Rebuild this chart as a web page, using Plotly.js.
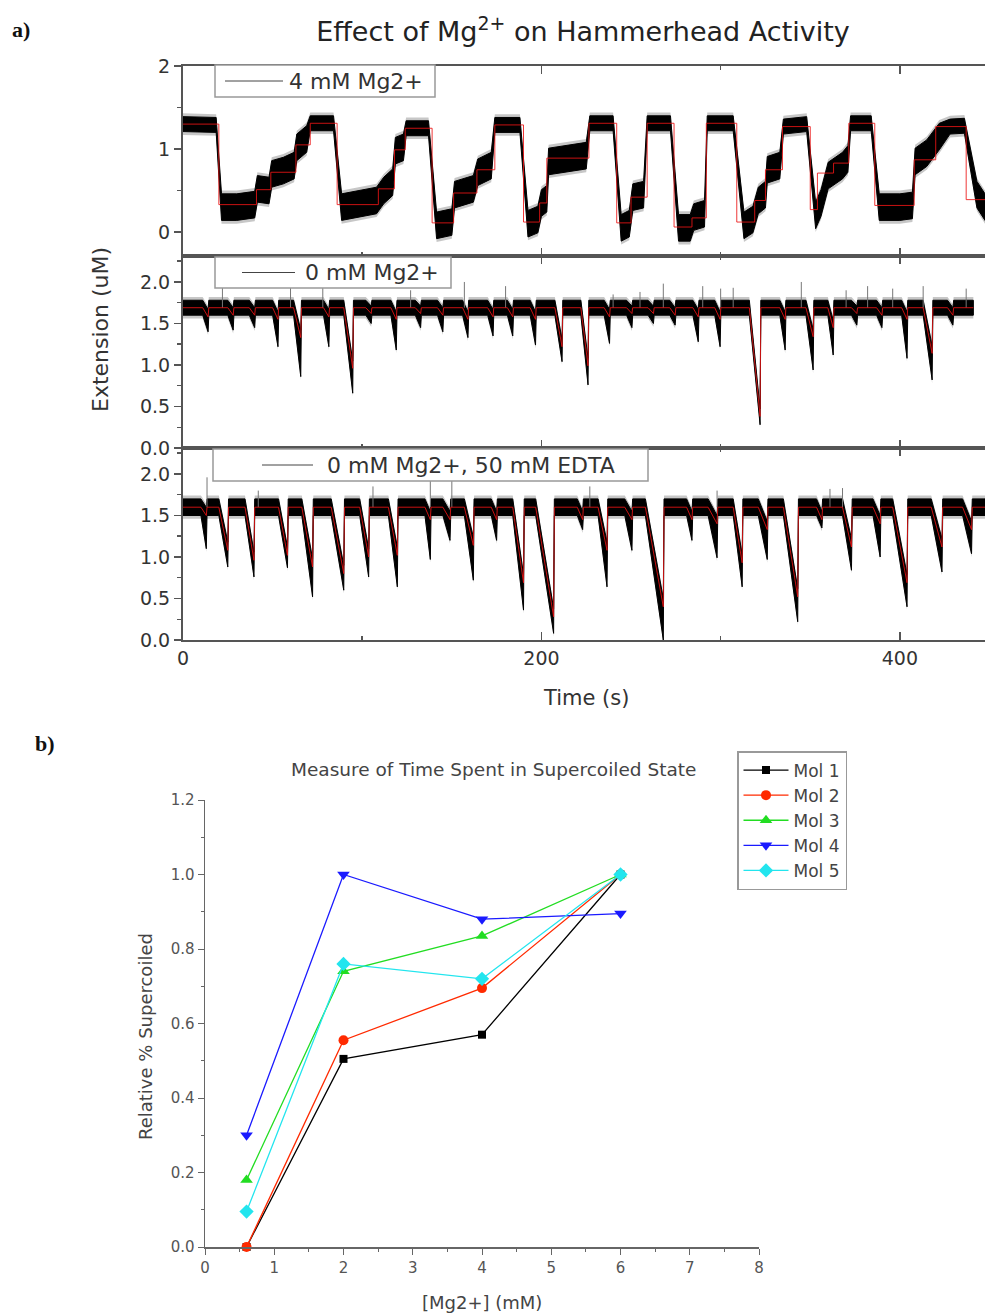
<!DOCTYPE html>
<html><head><meta charset="utf-8">
<script src="https://cdn.plot.ly/plotly-3.0.1.min.js"></script>
<style>html,body{margin:0;padding:0;background:#fff;} #chart{width:985px;height:1314px;}</style>
</head><body><div id="chart"></div>
<script>
// ===== Panel a, trace 1: 4 mM Mg2+ =====
// red fitted steps (start time of each level, level)
const fitT4 = [0, 20, 41, 49, 63, 71, 86, 109, 118, 124, 139, 151, 164, 174, 190, 199, 203, 226.5, 242, 250, 259, 274, 284, 292, 309, 319, 325, 334.5, 350, 354, 363, 371.5, 386, 408, 420, 437, 447.5];
const fitY4 = [1.30, 0.33, 0.51, 0.72, 1.05, 1.31, 0.33, 0.52, 0.99, 1.25, 0.11, 0.47, 0.75, 1.29, 0.12, 0.35, 0.89, 1.31, 0.11, 0.42, 1.31, 0.06, 0.17, 1.31, 0.12, 0.38, 0.75, 1.27, 0.27, 0.71, 0.83, 1.31, 0.32, 0.87, 1.27, 0.39, 0.39];
// raw trace centre line
const rawT4 = [0, 18.5, 21.5, 30, 40, 41.5, 48, 49.5, 56, 62, 63.5, 69, 71, 84, 88.5, 100, 108, 112, 117, 118.5, 123, 124.5, 137, 141.5, 150, 151.5, 162, 164.5, 172, 174, 188, 192.5, 198, 200, 203, 204, 225, 227, 240, 244.5, 249, 251, 257, 259, 272, 276.5, 283, 285, 291, 292.5, 307, 313, 318, 321, 325, 326, 333, 335, 348, 353, 356, 360, 368, 371, 372.5, 384, 388.5, 400, 407, 408.5, 415, 422, 428, 436, 443, 447.5];
const rawY4 = [1.30, 1.29, 0.30, 0.30, 0.33, 0.52, 0.50, 0.70, 0.74, 0.80, 1.02, 1.12, 1.31, 1.31, 0.30, 0.35, 0.38, 0.50, 0.60, 0.98, 1.02, 1.25, 1.25, 0.08, 0.12, 0.45, 0.52, 0.72, 0.80, 1.29, 1.29, 0.10, 0.15, 0.35, 0.40, 0.85, 0.92, 1.31, 1.31, 0.05, 0.10, 0.42, 0.45, 1.31, 1.31, 0.05, 0.05, 0.18, 0.22, 1.31, 1.31, 0.08, 0.15, 0.38, 0.45, 0.75, 0.80, 1.27, 1.30, 0.20, 0.35, 0.68, 0.80, 0.88, 1.31, 1.31, 0.30, 0.30, 0.32, 0.85, 0.95, 1.15, 1.27, 1.28, 0.45, 0.30];
const noiseHigh4 = 0.09, noiseLow4 = 0.16;

// ===== Panel a, trace 2: 0 mM Mg2+ =====
const base0 = 1.69, noise0 = 0.09, end0 = 441;
const dipT0   = [14, 28, 40, 53, 65.7, 81.4, 94.7, 105, 119, 132.6, 145, 159, 173, 184, 196.7, 211.5, 226, 238, 250.5, 262.5, 274.6, 287.5, 299.7, 322, 336, 351.6, 362.8, 376, 390, 404, 418, 429.6];
const dipFit0 = [1.58, 1.60, 1.60, 1.55, 1.33, 1.58, 0.96, 1.62, 1.55, 1.62, 1.60, 1.55, 1.58, 1.58, 1.55, 1.22, 0.99, 1.58, 1.62, 1.62, 1.60, 1.58, 1.55, 0.38, 1.55, 1.34, 1.45, 1.62, 1.60, 1.55, 1.14, 1.60];
const dipRaw0 = [1.40, 1.42, 1.45, 1.22, 0.86, 1.22, 0.66, 1.50, 1.18, 1.45, 1.40, 1.33, 1.35, 1.35, 1.24, 1.04, 0.76, 1.26, 1.45, 1.50, 1.48, 1.28, 1.22, 0.28, 1.18, 0.94, 1.12, 1.48, 1.45, 1.08, 0.82, 1.48];
const dipW0   = [3, 3, 3, 3, 4, 3, 5, 3, 3, 3, 3, 3, 3, 3, 3, 4, 4, 3, 3, 3, 3, 3, 3, 6, 3, 4, 3, 3, 3, 3, 5, 3];
const spikeT0 = [22, 60, 78, 127, 157, 180, 240, 255, 268, 290, 300, 307, 345, 370, 382, 396, 413, 437];
const spikeY0 = [1.95, 1.95, 1.98, 1.90, 2.00, 1.95, 1.85, 1.88, 1.98, 1.95, 1.92, 1.93, 2.00, 1.90, 1.95, 1.92, 1.95, 1.92];

// ===== Panel a, trace 3: 0 mM Mg2+, 50 mM EDTA =====
const base50 = 1.60, noise50 = 0.10, end50 = 447.5;
const dipT50   = [13, 25, 39.6, 58.3, 72.3, 89.7, 103.6, 119.6, 138, 149, 162, 175, 190, 206.8, 223, 236.6, 250.5, 268, 284, 298, 312, 326, 343, 356.5, 373, 389, 404, 423.5, 440];
const dipFit50 = [1.50, 1.08, 0.96, 1.02, 0.88, 0.80, 1.00, 1.02, 1.45, 1.45, 1.14, 1.45, 0.69, 0.28, 1.45, 1.08, 1.45, 0.40, 1.45, 1.40, 0.93, 1.33, 0.52, 1.45, 1.12, 1.40, 0.69, 1.12, 1.33];
const dipRaw50 = [1.10, 0.88, 0.76, 0.87, 0.52, 0.60, 0.76, 0.64, 0.97, 1.20, 0.72, 1.20, 0.36, 0.08, 1.33, 0.64, 1.08, 0.00, 1.20, 0.99, 0.64, 0.97, 0.22, 1.35, 0.84, 1.00, 0.40, 0.82, 1.04];
const dipW50   = [3, 5, 5, 5, 6, 7, 5, 5, 3, 4, 5, 3, 6, 10, 3, 5, 4, 10, 3, 5, 5, 5, 8, 3, 5, 4, 8, 6, 5];
const spikeT50 = [13.4, 42, 106, 138, 150, 227, 298, 361, 368];
const spikeY50 = [1.96, 1.80, 1.85, 1.97, 1.97, 1.85, 1.80, 1.82, 1.83];

const traceNames = ['4 mM Mg2+', '0 mM Mg2+', '0 mM Mg2+, 50 mM EDTA'];

// ===== Panel b =====
const mgConc = [0.6, 2, 4, 6];
const mol1 = [0.0, 0.505, 0.57, 1.0];
const mol2 = [0.0, 0.555, 0.695, 1.0];
const mol3 = [0.18, 0.74, 0.835, 1.0];
const mol4 = [0.30, 1.0, 0.88, 0.895];
const mol5 = [0.095, 0.76, 0.72, 1.0];
const molNames = ['Mol 1', 'Mol 2', 'Mol 3', 'Mol 4', 'Mol 5'];

// ---------- builders ----------
const FONT = 'DejaVu Sans';
function polygon(X, up, lo) {
  return { x: X.concat(X.slice().reverse()), y: up.concat(lo.slice().reverse()) };
}
function dipSeries(base, hw, T, F, R, W, end) {
  const X = [0], fit = [base], up = [base + hw], lo = [base - hw];
  for (let i = 0; i < T.length; i++) {
    X.push(T[i] - W[i], T[i], T[i] + 0.4);
    fit.push(base, F[i], base);
    up.push(base + hw, F[i] + hw, base + hw);
    lo.push(base - hw, R[i], base - hw);
  }
  X.push(end); fit.push(base); up.push(base + hw); lo.push(base - hw);
  return { X, fit, up, lo };
}
function spikes(T, Y, base) {
  const x = [], y = [];
  T.forEach((t, i) => { x.push(t, t, null); y.push(base, Y[i], null); });
  return { x, y };
}
const traces = [];
function addPanel(xa, ya, X, up, lo, fitX, fitY, fitShape, sp, name) {
  const halo = polygon(X, up.map(v => v + 0.04), lo.map(v => v - 0.04));
  traces.push({ x: halo.x, y: halo.y, xaxis: xa, yaxis: ya, mode: 'lines', fill: 'toself',
    fillcolor: 'rgba(0,0,0,0.22)', line: { width: 0 }, showlegend: false, hoverinfo: 'skip' });
  const band = polygon(X, up, lo);
  traces.push({ x: band.x, y: band.y, xaxis: xa, yaxis: ya, mode: 'lines', fill: 'toself', name: name,
    fillcolor: '#000', line: { color: '#000', width: 1 }, showlegend: false, hoverinfo: 'skip' });
  if (sp) traces.push({ x: sp.x, y: sp.y, xaxis: xa, yaxis: ya, mode: 'lines',
    line: { color: '#777', width: 1 }, showlegend: false, hoverinfo: 'skip' });
  traces.push({ x: fitX, y: fitY, xaxis: xa, yaxis: ya, mode: 'lines', name: name + ' fit',
    line: { color: 'rgba(235,20,20,0.85)', width: 1, shape: fitShape }, showlegend: false });
}

// panel a / 4 mM
const up4 = rawY4.map(v => v + (v > 1.15 ? noiseHigh4 : noiseLow4));
const lo4 = rawY4.map(v => v - (v > 1.15 ? noiseHigh4 : noiseLow4));
addPanel('x', 'y', rawT4, up4, lo4, fitT4, fitY4, 'hv', null, traceNames[0]);
// 0 mM
const s0 = dipSeries(base0, noise0, dipT0, dipFit0, dipRaw0, dipW0, end0);
addPanel('x2', 'y2', s0.X, s0.up, s0.lo, s0.X, s0.fit, 'linear', spikes(spikeT0, spikeY0, base0), traceNames[1]);
// EDTA
const s50 = dipSeries(base50, noise50, dipT50, dipFit50, dipRaw50, dipW50, end50);
addPanel('x3', 'y3', s50.X, s50.up, s50.lo, s50.X, s50.fit, 'linear', spikes(spikeT50, spikeY50, base50), traceNames[2]);

// panel b
const molData = [mol1, mol2, mol3, mol4, mol5];
const molColors = ['#000000', '#ff2a00', '#22dd22', '#1a1aff', '#22e5ee'];
const molSymbols = ['square', 'circle', 'triangle-up', 'triangle-down', 'diamond'];
const molSizes = [8, 10, 11, 11, 11];
molData.forEach((d, i) => {
  traces.push({ x: mgConc, y: d, xaxis: 'x4', yaxis: 'y4', mode: 'lines+markers', name: molNames[i],
    line: { color: molColors[i], width: 1.3 }, marker: { symbol: molSymbols[i], size: molSizes[i], color: molColors[i] },
    cliponaxis: false, showlegend: true });
});

// ---------- layout ----------
const W = 985, H = 1314;
const px = v => v / W, py = v => 1 - v / H;
const TMAX = 447.5;
const axLine = '#555';
function xA(dom, showLab, anchor) {
  return { domain: dom, anchor: anchor, range: [0, TMAX], showline: true, linecolor: axLine, linewidth: 2,
    mirror: 'ticks', ticks: 'inside', ticklen: 8, tickwidth: 1.5, tickcolor: axLine, dtick: 200, tick0: 0,
    minor: { dtick: 100, ticklen: 4, ticks: 'inside', tickcolor: axLine, tickwidth: 1.5 },
    showgrid: false, zeroline: false, showticklabels: showLab,
    tickfont: { family: FONT, size: 19, color: '#333' } };
}
function yA(dom, range, dtick, fmt, anchor) {
  return { domain: dom, anchor: anchor, range: range, showline: true, linecolor: axLine, linewidth: 2,
    mirror: 'ticks', ticks: 'outside', ticklen: 7, tickwidth: 1.5, tickcolor: axLine, dtick: dtick, tick0: 0,
    tickformat: fmt, minor: { dtick: dtick / 2, ticklen: 4, ticks: 'outside', tickcolor: axLine, tickwidth: 1.5 },
    showgrid: false, zeroline: false, tickfont: { family: FONT, size: 19, color: '#333' } };
}
const xdomA = [px(183), 1];

// legend boxes of panel a (box, sample line, label) in pixel positions
const legBoxes = [
  { x0: 215, x1: 435, y0: 65, y1: 97, l0: 225, l1: 283, tx: 287 },
  { x0: 215, x1: 451, y0: 257, y1: 288, l0: 242, l1: 295, tx: 303 },
  { x0: 213, x1: 648, y0: 449, y1: 481, l0: 262, l1: 313, tx: 325 }
];
const shapes = [], legAnn = [];
legBoxes.forEach((b, i) => {
  const ym = (b.y0 + b.y1) / 2;
  shapes.push({ type: 'rect', xref: 'paper', yref: 'paper', x0: px(b.x0), x1: px(b.x1), y0: py(b.y1), y1: py(b.y0),
    fillcolor: '#fff', line: { color: '#999', width: 1.5 }, layer: 'above' });
  shapes.push({ type: 'line', xref: 'paper', yref: 'paper', x0: px(b.l0), x1: px(b.l1), y0: py(ym), y1: py(ym),
    line: { color: '#444', width: 1 }, layer: 'above' });
  legAnn.push({ text: traceNames[i], x: px(b.tx), y: py(ym), xref: 'paper', yref: 'paper', xanchor: 'left', yanchor: 'middle',
    showarrow: false, font: { family: FONT, size: 22, color: '#333' } });
});

const layout = {
  width: W, height: H, margin: { l: 0, r: 0, t: 0, b: 0 }, paper_bgcolor: '#fff', plot_bgcolor: '#fff',
  font: { family: FONT, color: '#333' }, showlegend: true,
  title: { text: 'Effect of Mg<sup>2+</sup> on Hammerhead Activity', x: px(583), y: py(32), xanchor: 'center', yanchor: 'middle',
    font: { family: FONT, size: 27, color: '#222' } },
  xaxis: xA(xdomA, false, 'y'),
  xaxis2: xA(xdomA, false, 'y2'),
  xaxis3: xA(xdomA, true, 'y3'),
  yaxis: yA([py(256), py(66)], [-0.289, 2], 1, 'd', 'x'),
  yaxis2: yA([py(448), py(256)], [0, 2.313], 0.5, '.1f', 'x2'),
  yaxis3: yA([py(640), py(448)], [0, 2.313], 0.5, '.1f', 'x3'),
  xaxis4: { domain: [px(205), px(759)], anchor: 'y4', range: [0, 8], dtick: 1, showline: true, linecolor: '#666', linewidth: 1.5,
    ticks: 'outside', ticklen: 6, tickcolor: '#666', minor: { dtick: 0.5, ticklen: 3, ticks: 'outside', tickcolor: '#666' },
    showgrid: false, zeroline: false, tickfont: { family: FONT, size: 15, color: '#555' } },
  yaxis4: { domain: [py(1247), py(800)], anchor: 'x4', range: [0, 1.2], dtick: 0.2, tickformat: '.1f', showline: true,
    linecolor: '#666', linewidth: 1.5, ticks: 'outside', ticklen: 6, tickcolor: '#666',
    minor: { dtick: 0.1, ticklen: 3, ticks: 'outside', tickcolor: '#666' },
    showgrid: false, zeroline: false, tickfont: { family: FONT, size: 15, color: '#555' } },
  legend: { x: px(737), y: py(751), xanchor: 'left', yanchor: 'top', bgcolor: '#fff', bordercolor: '#999', borderwidth: 1.5,
    itemwidth: 45, font: { family: FONT, size: 17, color: '#444' }, tracegroupgap: 0 },
  shapes: shapes,
  annotations: legAnn.concat([
    { text: 'a)', x: px(10), y: py(30), xref: 'paper', yref: 'paper', xanchor: 'left', yanchor: 'middle', showarrow: false,
      font: { family: 'Liberation Serif', size: 22, color: '#111', weight: 'bold' } },
    { text: 'b)', x: px(33), y: py(743), xref: 'paper', yref: 'paper', xanchor: 'left', yanchor: 'middle', showarrow: false,
      font: { family: 'Liberation Serif', size: 22, color: '#111', weight: 'bold' } },
    { text: 'Extension (uM)', x: px(100), y: py(330), xref: 'paper', yref: 'paper', textangle: -90, showarrow: false,
      xanchor: 'center', yanchor: 'middle', font: { family: FONT, size: 22, color: '#333' } },
    { text: 'Time (s)', x: px(586), y: py(698), xref: 'paper', yref: 'paper', showarrow: false,
      xanchor: 'center', yanchor: 'middle', font: { family: FONT, size: 21, color: '#333' } },
    { text: 'Measure of Time Spent in Supercoiled State', x: px(493), y: py(769), xref: 'paper', yref: 'paper', showarrow: false,
      xanchor: 'center', yanchor: 'middle', font: { family: FONT, size: 18.5, color: '#444' } },
    { text: 'Relative % Supercoiled', x: px(145), y: py(1037), xref: 'paper', yref: 'paper', textangle: -90, showarrow: false,
      xanchor: 'center', yanchor: 'middle', font: { family: FONT, size: 18, color: '#444' } },
    { text: '[Mg2+] (mM)', x: px(482), y: py(1302), xref: 'paper', yref: 'paper', showarrow: false,
      xanchor: 'center', yanchor: 'middle', font: { family: FONT, size: 18, color: '#444' } }
  ])
};
Plotly.newPlot('chart', traces, layout, { staticPlot: true, displayModeBar: false });
</script></body></html>
